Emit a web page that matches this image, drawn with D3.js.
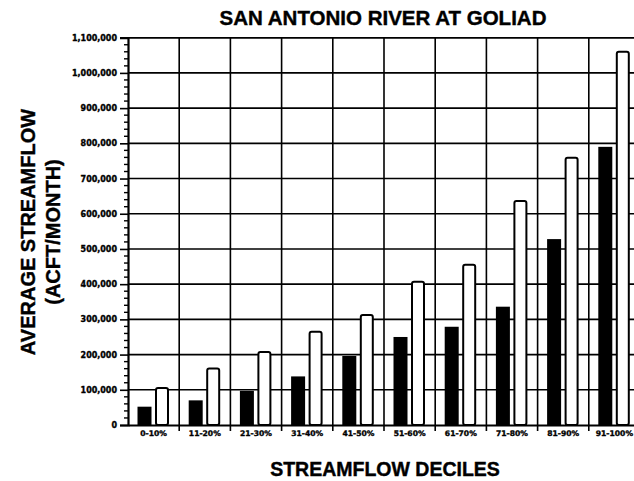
<!DOCTYPE html>
<html>
<head>
<meta charset="utf-8">
<script src="https://cdn.jsdelivr.net/npm/d3@7"></script>
<style>
  html, body { margin: 0; padding: 0; background: #fff; }
  svg { display: block; }
</style>
</head>
<body>
<svg id="chart" width="634" height="481"></svg>
<script>
// Decile categories and average monthly streamflow (acre-feet per month)
const categories = ["0-10%", "11-20%", "21-30%", "31-40%", "41-50%",
                    "51-60%", "61-70%", "71-80%", "81-90%", "91-100%"];
const seriesDark  = [52000, 70000, 97000, 138000, 196000,
                     250000, 279000, 336000, 528000, 790000];
const seriesLight = [108000, 163000, 210000, 268000, 315000,
                     410000, 458000, 639000, 762000, 1063000];
const yTicks = [0, 100000, 200000, 300000, 400000, 500000, 600000,
                700000, 800000, 900000, 1000000, 1100000];

const svg = d3.select("#chart");
const plotLeft = 128, plotRight = 640, plotTop = 37.7, plotBottom = 425;

const x0 = d3.scaleBand().domain(categories).range([plotLeft, plotRight]);
const x1 = d3.scaleBand().domain(["dark", "light"])
  .range([9.5, 41]).paddingInner(0.2);
const y = d3.scaleLinear().domain([0, 1100000]).range([plotBottom, plotTop]);

const fmt = d3.format(",");

// Horizontal gridlines
svg.append("g").selectAll("line").data(yTicks.slice(1)).join("line")
  .attr("x1", plotLeft).attr("x2", plotRight)
  .attr("y1", d => y(d)).attr("y2", d => y(d))
  .attr("stroke", "#000").attr("stroke-width", 1.6);

// Vertical gridlines at category boundaries, extending below as ticks
const bounds = categories.map(c => x0(c)).slice(1).concat([plotRight]);
svg.append("g").selectAll("line").data(bounds).join("line")
  .attr("x1", d => d).attr("x2", d => d)
  .attr("y1", plotTop).attr("y2", plotBottom + 6)
  .attr("stroke", "#000").attr("stroke-width", 1.6);

// Bars
const groups = svg.append("g").selectAll("g").data(categories).join("g")
  .attr("transform", c => `translate(${x0(c)},0)`);

groups.append("rect")
  .attr("x", x1("dark"))
  .attr("width", x1.bandwidth())
  .attr("y", (c, i) => y(seriesDark[i]))
  .attr("height", (c, i) => plotBottom - y(seriesDark[i]))
  .attr("fill", "#000");

groups.append("rect")
  .attr("x", x1("light") + 1)
  .attr("width", x1.bandwidth() - 2)
  .attr("y", (c, i) => y(seriesLight[i]) + 1)
  .attr("height", (c, i) => plotBottom - y(seriesLight[i]) - 1)
  .attr("rx", 2)
  .attr("fill", "#fff")
  .attr("stroke", "#000").attr("stroke-width", 2);

// Y axis with major and minor ticks
const yAxis = d3.axisLeft(y).tickValues(yTicks).tickFormat(fmt)
  .tickSize(8).tickPadding(3);
const gy = svg.append("g").attr("transform", `translate(${plotLeft},0)`).call(yAxis);
gy.select(".domain").attr("stroke-width", 2.2);
gy.selectAll(".tick line").attr("stroke-width", 1.6);
gy.selectAll("text")
  .attr("font-family", "'DejaVu Sans', sans-serif")
  .attr("font-weight", "bold").attr("font-size", 8).attr("fill", "#000")
  .attr("stroke", "#000").attr("stroke-width", 0.35);

const minor = d3.range(0, 1100001, 20000).filter(v => v % 100000 !== 0);
svg.append("g").selectAll("line").data(minor).join("line")
  .attr("x1", plotLeft - 4).attr("x2", plotLeft)
  .attr("y1", d => y(d)).attr("y2", d => y(d))
  .attr("stroke", "#000").attr("stroke-width", 1.4);

// X axis
const xAxis = d3.axisBottom(x0).tickSize(0).tickPadding(6);
const gx = svg.append("g").attr("transform", `translate(0,${plotBottom})`).call(xAxis);
gx.select(".domain").attr("stroke-width", 2.2);
gx.selectAll("text")
  .attr("font-family", "'DejaVu Sans', sans-serif")
  .attr("font-weight", "bold").attr("font-size", 7.6).attr("fill", "#000")
  .attr("stroke", "#000").attr("stroke-width", 0.35);

// Top border of the plot area
svg.append("line")
  .attr("x1", plotLeft).attr("x2", plotRight).attr("y1", plotTop).attr("y2", plotTop)
  .attr("stroke", "#000").attr("stroke-width", 1.6);

// Titles
const titleFont = "'Liberation Sans', Arial, sans-serif";
svg.append("text")
  .attr("x", 383).attr("y", 25).attr("text-anchor", "middle")
  .attr("font-family", titleFont).attr("font-weight", "bold")
  .attr("font-size", 20.5)
  .attr("stroke", "#000").attr("stroke-width", 0.4)
  .text("SAN ANTONIO RIVER AT GOLIAD");

svg.append("text")
  .attr("x", 385).attr("y", 476).attr("text-anchor", "middle")
  .attr("font-family", titleFont).attr("font-weight", "bold")
  .attr("font-size", 19.5)
  .attr("stroke", "#000").attr("stroke-width", 0.4)
  .text("STREAMFLOW DECILES");

const yTitle = svg.append("text")
  .attr("transform", "translate(0,232) rotate(-90)")
  .attr("text-anchor", "middle")
  .attr("font-family", titleFont).attr("font-weight", "bold")
  .attr("font-size", 20)
  .attr("stroke", "#000").attr("stroke-width", 0.4);
yTitle.append("tspan").attr("x", 0).attr("y", 35).text("AVERAGE STREAMFLOW");
yTitle.append("tspan").attr("x", 0).attr("y", 60).text("(ACFT/MONTH)");
</script>
</body>
</html>
